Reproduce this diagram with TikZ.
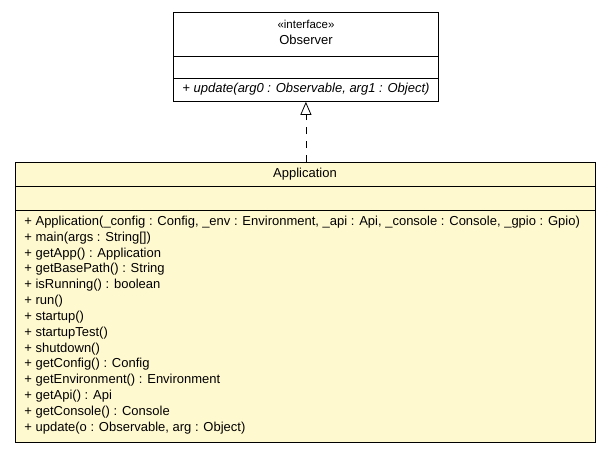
\documentclass[tikz,border=0pt]{standalone}
\usepackage{fontspec}
\setmainfont{Liberation Sans}
\usetikzlibrary{arrows.meta}
\definecolor{classfill}{RGB}{255,249,208}
\tikzset{
  classbox/.style={draw, inner sep=0pt, anchor=north west},
  realize/.style={dash pattern=on 7pt off 7pt, -{Triangle[open, length=13pt, width=11pt]}},
}
\begin{document}
\begin{tikzpicture}[x=1pt, y=-1pt, line width=0.8pt, font=\fontsize{13}{15.85}\selectfont]
    \useasboundingbox (0,0) rectangle (611,453);
    % interface Observer
    \node[classbox, fill=white, minimum width=265pt, minimum height=89pt] (obs) at (173,12) {};
    \draw (173,56) -- (438,56);
    \draw (173,78) -- (438,78);
    \node (obsstereo) at (306,24) {\fontsize{11.5}{12}\selectfont «interface»};
    \node (obsname) at (306,40) {Observer};
    \node (obsop) at (306,89) {\itshape + update(arg0 : Observable, arg1 : Object)};
    % class Application
    \node[classbox, fill=classfill, minimum width=580pt, minimum height=280pt] (app) at (15,162) {};
    \draw (15,186) -- (595,186);
    \draw (15,210) -- (595,210);
    \node (appname) at (305,174) {Application};
    \node[anchor=north west, align=left, inner sep=0pt] (appops) at (24,215.5) {%
      + Application(\_config : Config, \_env : Environment, \_api : Api, \_console : Console, \_gpio : Gpio)\\
      + main(args : String[])\\
      + getApp() : Application\\
      + getBasePath() : String\\
      + isRunning() : boolean\\
      + run()\\
      + startup()\\
      + startupTest()\\
      + shutdown()\\
      + getConfig() : Config\\
      + getEnvironment() : Environment\\
      + getApi() : Api\\
      + getConsole() : Console\\
      + update(o : Observable, arg : Object)};
    \draw[realize] (app.north -| obs.south) -- (obs.south);
\end{tikzpicture}
\end{document}
